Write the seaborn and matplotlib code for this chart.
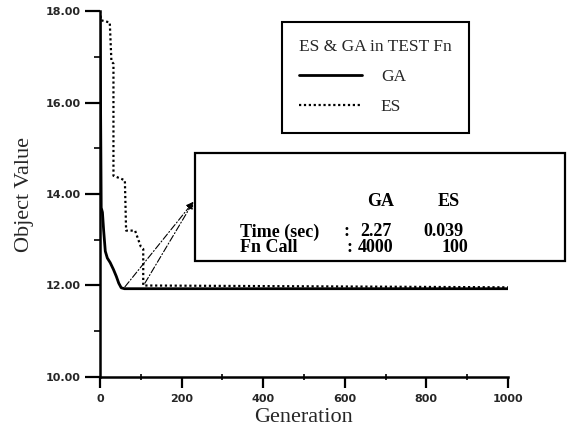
import numpy as np
import pandas as pd
import matplotlib
matplotlib.use('Agg')
import matplotlib.pyplot as plt
from matplotlib.patches import Rectangle
from matplotlib.ticker import MultipleLocator, FormatStrFormatter
import seaborn as sns

# GA convergence curve
ga_gen = [0, 3, 6, 9, 13, 18, 25, 33, 40, 46, 52, 60, 100, 1000]
ga_val = [17.9, 13.7, 13.6, 13.2, 12.75, 12.6, 12.5, 12.35, 12.2, 12.05, 11.95, 11.93, 11.93, 11.93]

# ES convergence curve (step-like)
es_gen = [0, 2, 24, 28, 33, 33, 61, 64, 86, 100, 106, 106, 1000]
es_val = [18.0, 17.8, 17.75, 16.9, 16.85, 14.4, 14.3, 13.2, 13.2, 12.85, 12.8, 12.0, 11.96]

# comparison table
col_heads = ['GA', 'ES']
row_names = ['Time (sec)', 'Fn Call']
ga_stats = ['2.27', '4000']
es_stats = ['0.039', '100']

sns.set_style('ticks')
plt.rcParams['font.family'] = ['DejaVu Sans']

fig = plt.figure(figsize=(5.73, 4.30), dpi=100)
ax = fig.add_axes([0.1745, 0.1233, 0.712, 0.851])

sns.lineplot(x=ga_gen, y=ga_val, ax=ax, estimator=None, sort=False,
             color='black', lw=2.0, label='GA')
sns.lineplot(x=es_gen, y=es_val, ax=ax, estimator=None, sort=False,
             color='black', lw=1.6, linestyle=(0, (1, 1.2)), label='ES')

ax.set_xlim(0, 1000)
ax.set_ylim(10, 18)
ax.xaxis.set_major_locator(MultipleLocator(200))
ax.xaxis.set_minor_locator(MultipleLocator(100))
ax.yaxis.set_major_locator(MultipleLocator(2))
ax.yaxis.set_minor_locator(MultipleLocator(1))
ax.yaxis.set_major_formatter(FormatStrFormatter('%.2f'))

for s in ['top', 'right']:
    ax.spines[s].set_visible(False)
for s in ['left', 'bottom']:
    ax.spines[s].set_linewidth(1.8)
    ax.spines[s].set_color('black')

ax.tick_params(axis='both', which='major', direction='out', width=1.6, color='black')
ax.tick_params(axis='y', which='major', length=11, pad=3)
ax.tick_params(axis='y', which='minor', length=4, width=1.4, direction='out')
ax.tick_params(axis='x', which='major', length=8, pad=4)
ax.tick_params(axis='x', which='minor', length=5, width=1.4, direction='inout')
for lab in ax.get_xticklabels() + ax.get_yticklabels():
    lab.set_fontweight('bold')
    lab.set_fontsize(8)

ax.set_xlabel('Generation', family='Liberation Serif', fontsize=16, labelpad=3)
ax.set_ylabel('Object Value', family='Liberation Serif', fontsize=16, labelpad=8)

leg = ax.legend(title='ES & GA in TEST Fn', loc='upper left',
                bbox_to_anchor=(0.446, 0.97), borderaxespad=0,
                frameon=True, fancybox=False,
                edgecolor='black', handlelength=3.6, handletextpad=1.1,
                borderpad=1.0, labelspacing=0.8,
                prop={'family': 'Liberation Serif', 'size': 12.5},
                title_fontproperties={'family': 'Liberation Serif', 'size': 12.5})
leg.get_frame().set_linewidth(1.5)
leg.get_frame().set_facecolor('white')
leg.get_frame().set_alpha(1)
leg._legend_box.align = 'left'

# table box (extends past the axes)
box = Rectangle((233, 12.54), 907, 2.36, transform=ax.transData, fill=True,
                facecolor='white', edgecolor='black', lw=1.6, clip_on=False, zorder=5)
ax.add_patch(box)

tfont = dict(family='Liberation Serif', fontweight='bold', fontsize=13,
             color='black', zorder=6, clip_on=False)
ax.text(689, 13.83, col_heads[0], ha='center', va='center', **tfont)
ax.text(855, 13.83, col_heads[1], ha='center', va='center', **tfont)
row_y = [13.17, 12.82]
colon_x = [596, 605]
ga_x = [637, 632]
es_x = [792, 838]
for i in range(len(row_names)):
    ax.text(343, row_y[i], row_names[i], ha='left', va='center', **tfont)
    ax.text(colon_x[i], row_y[i], ':', ha='left', va='center', **tfont)
    ax.text(ga_x[i], row_y[i], ga_stats[i], ha='left', va='center', **tfont)
    ax.text(es_x[i], row_y[i], es_stats[i], ha='left', va='center', **tfont)

# arrows from the curves to the table
for tail in [(61, 11.97), (110, 12.05)]:
    ax.annotate('', xy=(229, 13.83), xytext=tail,
                arrowprops=dict(arrowstyle='-|>', color='black', lw=0.8,
                                linestyle=(0, (6, 2, 1, 2)), mutation_scale=10,
                                shrinkA=0, shrinkB=0))

fig.savefig('out.png', dpi=100)
